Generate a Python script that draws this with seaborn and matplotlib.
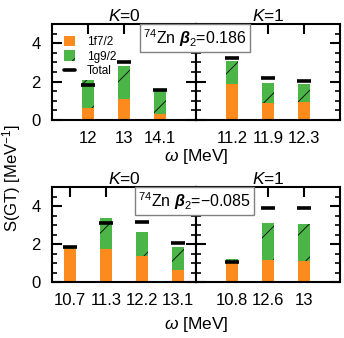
import numpy as np
import matplotlib
matplotlib.use('Agg')
import matplotlib.pyplot as plt
import matplotlib.patches as mpatches
from matplotlib.lines import Line2D
from matplotlib.ticker import MultipleLocator
import seaborn as sns

sns.set_style('ticks')
plt.rcParams['font.family'] = ['Liberation Sans', 'DejaVu Sans']
plt.rcParams['mathtext.fontset'] = 'custom'
plt.rcParams['mathtext.rm'] = 'Liberation Sans'
plt.rcParams['mathtext.it'] = 'Liberation Sans:italic'
plt.rcParams['mathtext.bf'] = 'Liberation Sans:bold:italic'
plt.rcParams['hatch.linewidth'] = 0.6
for k in ['text.color', 'axes.labelcolor', 'xtick.color', 'ytick.color', 'axes.edgecolor']:
    plt.rcParams[k] = 'black'

# data (S(GT) in MeV^-1)
# beta2 = 0.186
top_k0_labels = ['12', '13', '14.1']
top_k0_f72 = [0.65, 1.09, 0.32]
top_k0_g92 = [1.45, 1.73, 1.18]
top_k0_total = [1.84, 3.03, 1.57]

top_k1_labels = ['11.2', '11.9', '12.3']
top_k1_f72 = [1.85, 0.86, 0.95]
top_k1_g92 = [1.23, 1.08, 0.95]
top_k1_total = [3.24, 2.19, 2.05]

# beta2 = -0.085
bot_k0_labels = ['10.7', '11.3', '12.2', '13.1']
bot_k0_f72 = [1.73, 1.74, 1.37, 0.62]
bot_k0_g92 = [0.07, 1.64, 1.28, 1.21]
bot_k0_total = [1.85, 3.11, 3.17, 2.05]

bot_k1_labels = ['10.8', '12.6', '13']
bot_k1_f72 = [0.98, 1.16, 1.12]
bot_k1_g92 = [0.21, 1.94, 1.95]
bot_k1_total = [1.05, 3.91, 3.87]

orange = '#fd8a1c'
green = '#4bb548'
W, H = 344, 338

fig = plt.figure(figsize=(W / 100, H / 100), dpi=100)


def panel(rect, labels, f72, g92, total, title, show_y):
    ax = fig.add_axes(rect)
    f72 = np.array(f72)
    g92 = np.array(g92)
    # green stacked on orange: draw full height green first, then orange
    sns.barplot(x=labels, y=f72 + g92, color=green, saturation=1, width=0.33,
                hatch='/', edgecolor='black', linewidth=0, ax=ax)
    sns.barplot(x=labels, y=f72, color=orange, saturation=1, width=0.33,
                edgecolor='black', linewidth=0, ax=ax)
    pos = np.arange(len(labels))
    ax.hlines(total, pos - 0.2, pos + 0.2, color='black', lw=2.6, zorder=3)
    n = len(labels)
    if n == 3:
        ax.set_xlim(-1, 3)
    else:
        ax.set_xlim(-0.5, n - 0.5)
    ax.set_ylim(0, 5)
    ax.yaxis.set_major_locator(MultipleLocator(2))
    ax.yaxis.set_minor_locator(MultipleLocator(0.5))
    ax.tick_params(which='both', direction='in', top=True, right=True,
                   labelsize=12)
    ax.tick_params(which='major', length=7, width=1.5, pad=8)
    ax.tick_params(which='minor', length=3.5, width=1.2)
    ax.tick_params(axis='x', which='minor', bottom=False, top=False)
    if not show_y:
        ax.tick_params(axis='y', labelleft=False)
    for s in ax.spines.values():
        s.set_linewidth(1.5)
    ax.set_xlabel('')
    ax.set_ylabel('')
    ax.set_title(title, fontsize=12.5, pad=2)
    return ax


x0, xm, x1 = 52 / W, 196 / W, 340 / W
top_b, top_h = 1 - 120 / H, 96 / H
bot_b, bot_h = 1 - 282 / H, 95 / H

ax1 = panel([x0, top_b, xm - x0, top_h], top_k0_labels, top_k0_f72, top_k0_g92,
            top_k0_total, r'$K$=0', True)
ax2 = panel([xm, top_b, x1 - xm, top_h], top_k1_labels, top_k1_f72, top_k1_g92,
            top_k1_total, r'$K$=1', False)
ax3 = panel([x0, bot_b, xm - x0, bot_h], bot_k0_labels, bot_k0_f72, bot_k0_g92,
            bot_k0_total, r'$K$=0', True)
ax4 = panel([xm, bot_b, x1 - xm, bot_h], bot_k1_labels, bot_k1_f72, bot_k1_g92,
            bot_k1_total, r'$K$=1', False)

handles = [mpatches.Patch(facecolor=orange, linewidth=0),
           mpatches.Patch(facecolor=green, hatch='/', edgecolor='black', linewidth=0),
           Line2D([], [], color='black', lw=2.6)]
ax1.legend(handles, ['1f7/2', '1g9/2', 'Total'], loc='upper left', frameon=False,
           fontsize=8.5, handlelength=1.0, handleheight=0.95, labelspacing=0.22,
           handletextpad=1.0, borderaxespad=0.3, borderpad=0.2,
           bbox_to_anchor=(0.04, 0.94))

box = dict(boxstyle='square,pad=0.2', facecolor='white', edgecolor='gray', lw=1)
fig.text(0.566, 1 - 38 / H, r'$^{74}$Zn $\mathbf{\beta}_\mathrm{2}$=0.186',
         ha='center', va='center', fontsize=11.5, bbox=box)
fig.text(0.566, 1 - 201 / H, r'$^{74}$Zn $\mathbf{\beta}_\mathrm{2}$=$-$0.085',
         ha='center', va='center', fontsize=11.5, bbox=box)

fig.text(0.572, 1 - 157 / H, r'$\omega$ [MeV]', ha='center', va='center', fontsize=12.5)
fig.text(0.572, 1 - 324 / H, r'$\omega$ [MeV]', ha='center', va='center', fontsize=12.5)
fig.text(0.035, 1 - 178 / H, r'S(GT) [MeV$^{-1}$]', ha='center', va='center',
         rotation=90, fontsize=12)

fig.savefig('out.png', dpi=100)
